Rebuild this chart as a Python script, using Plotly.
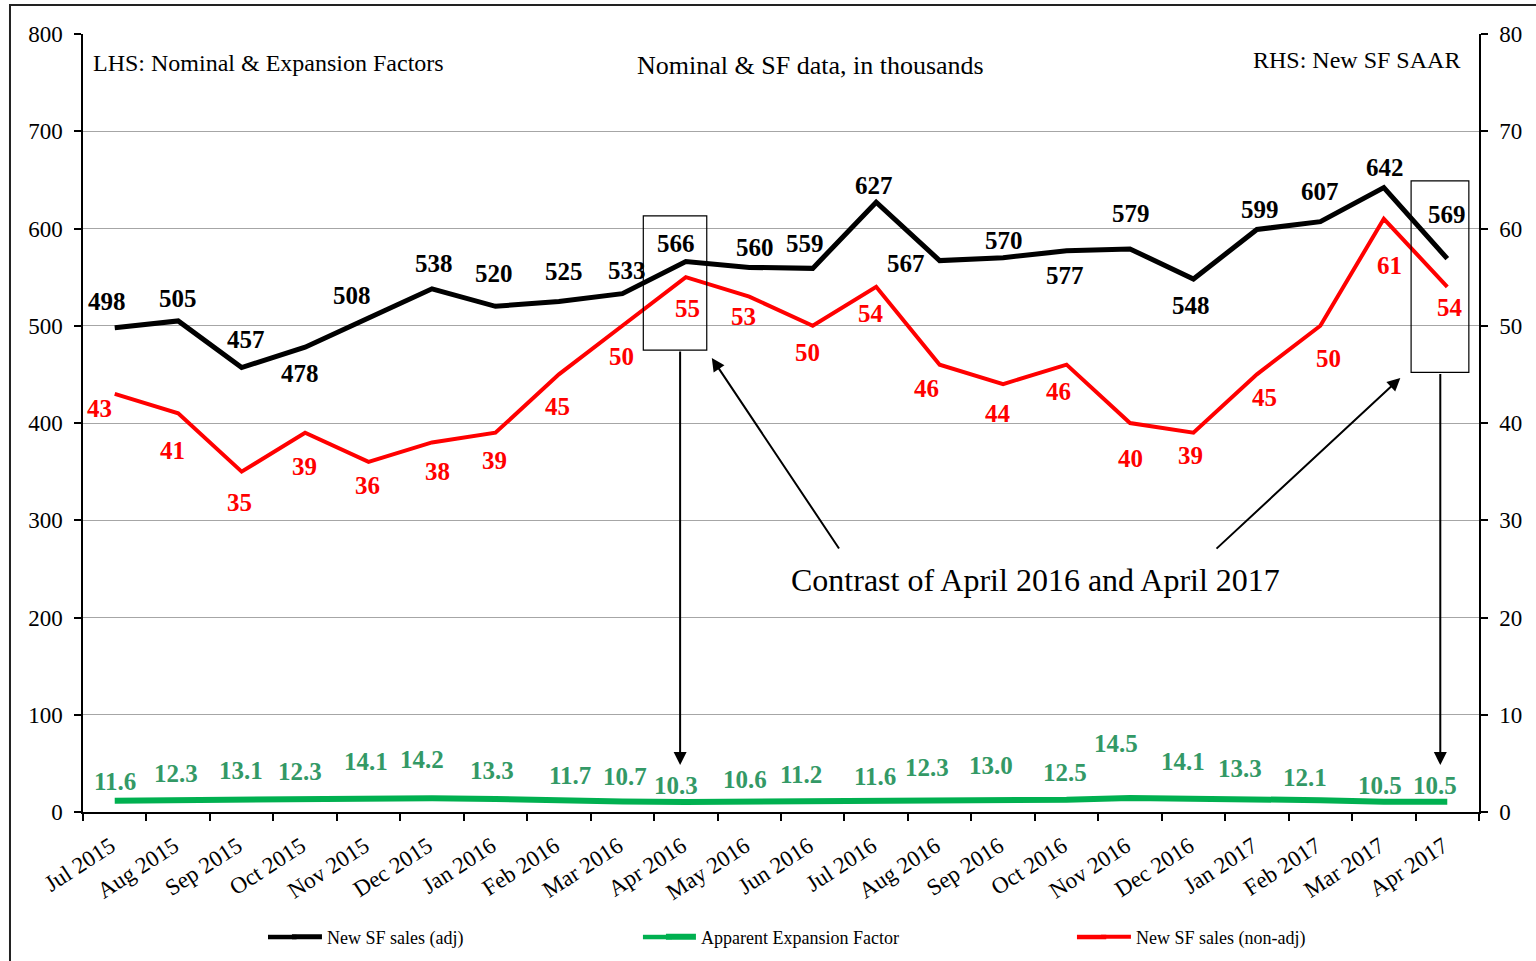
import plotly.graph_objects as go

months = ["Jul 2015", "Aug 2015", "Sep 2015", "Oct 2015", "Nov 2015", "Dec 2015",
          "Jan 2016", "Feb 2016", "Mar 2016", "Apr 2016", "May 2016", "Jun 2016",
          "Jul 2016", "Aug 2016", "Sep 2016", "Oct 2016", "Nov 2016", "Dec 2016",
          "Jan 2017", "Feb 2017", "Mar 2017", "Apr 2017"]
sf_adj = [498, 505, 457, 478, 508, 538, 520, 525, 533, 566, 560, 559,
          627, 567, 570, 577, 579, 548, 599, 607, 642, 569]
expansion = [11.6, 12.3, 13.1, 12.3, 14.1, 14.2, 13.3, 11.7, 10.7, 10.3, 10.6, 11.2,
             11.6, 12.3, 13.0, 12.5, 14.5, 14.1, 13.3, 12.1, 10.5, 10.5]
sf_nonadj = [43, 41, 35, 39, 36, 38, 39, 45, 50, 55, 53, 50,
             54, 46, 44, 46, 40, 39, 45, 50, 61, 54]

# label offsets in pixels (style only)
adj_dx = [-8, 0, 4, -5, -17, 2, -1, 5, 5, -10, 6, -8, -2, -34, 1, -2, 1, -2, 3, 0, 1, 0]
adj_dy = [26, 22, 28, -26, 22, 25, 33, 30, 23, 18, 20, 25, 17, -3, 17, -25, 35, -26, 20, 30, 20, 44]
non_dx = [-15, -6, -2, -1, -1, 5, -1, -1, -1, 2, -6, -5, -5, -13, -5, -8, 0, -3, 8, 8, 6, 3]
non_dy = [-15, -37, -31, -34, -24, -29, -28, -32, -31, -31, -20, -27, -27, -24, -29, -27, -35, -23, -23, -33, -47, -21]
exp_dx = [0, -2, -1, -5, -3, -10, -3, 11, 3, -10, -4, -12, -1, -13, -12, -2, -14, -10, -17, -15, -4, -12]
exp_dy = [19, 27, 29, 29, 37, 39, 29, 25, 25, 16, 22, 27, 24, 33, 34, 27, 54, 37, 31, 23, 16, 16]

FONT = "Liberation Serif, Times New Roman, serif"
BLACK = "#000000"
RED = "#FF0000"
GREEN_LINE = "#00B050"
GREEN_TEXT = "#339966"

fig = go.Figure()
fig.add_trace(go.Scatter(x=months, y=sf_adj, mode="lines", name="New SF sales (adj)",
                         line=dict(color=BLACK, width=5), legend="legend", showlegend=True))
fig.add_trace(go.Scatter(x=months, y=expansion, mode="lines", name="Apparent Expansion Factor",
                         line=dict(color=GREEN_LINE, width=6), legend="legend2", showlegend=True))
fig.add_trace(go.Scatter(x=months, y=sf_nonadj, mode="lines", name="New SF sales (non-adj)",
                         line=dict(color=RED, width=4), yaxis="y2", legend="legend3",
                         showlegend=True))

annotations = []
for i, m in enumerate(months):
    annotations.append(dict(x=m, y=sf_adj[i], xref="x", yref="y", text=str(sf_adj[i]),
                            showarrow=False, xshift=adj_dx[i], yshift=adj_dy[i],
                            font=dict(family=FONT, size=25, color=BLACK, weight="bold")))
    annotations.append(dict(x=m, y=sf_nonadj[i], xref="x", yref="y2", text=str(sf_nonadj[i]),
                            showarrow=False, xshift=non_dx[i], yshift=non_dy[i],
                            font=dict(family=FONT, size=25, color=RED, weight="bold")))
    annotations.append(dict(x=m, y=expansion[i], xref="x", yref="y", text=f"{expansion[i]:.1f}",
                            showarrow=False, xshift=exp_dx[i], yshift=exp_dy[i],
                            font=dict(family=FONT, size=25, color=GREEN_TEXT, weight="bold")))

annotations += [
    dict(x=0.0057, y=0.9627, xref="paper", yref="paper", xanchor="left", yanchor="middle",
         text="LHS: Nominal & Expansion Factors", showarrow=False,
         font=dict(family=FONT, size=24, color=BLACK)),
    dict(x=0.5208, y=0.960, xref="paper", yref="paper", xanchor="center", yanchor="middle",
         text="Nominal & SF data, in thousands", showarrow=False,
         font=dict(family=FONT, size=26, color=BLACK)),
    dict(x=0.9878, y=0.9666, xref="paper", yref="paper", xanchor="right", yanchor="middle",
         text="RHS: New SF SAAR", showarrow=False,
         font=dict(family=FONT, size=24, color=BLACK)),
    dict(x=0.682, y=0.298, xref="paper", yref="paper", xanchor="center", yanchor="middle",
         text="Contrast of April 2016 and April 2017", showarrow=False,
         font=dict(family=FONT, size=32, color=BLACK)),
]

arrow_style = dict(showarrow=True, text="", arrowhead=2, arrowsize=1.3, arrowwidth=2,
                   arrowcolor=BLACK, standoff=0, startstandoff=0,
                   xref="x", yref="y", axref="x", ayref="y")
annotations += [
    dict(x=8.91, y=48.3, ax=8.91, ay=475, **arrow_style),
    dict(x=20.89, y=48.3, ax=20.89, ay=452, **arrow_style),
    dict(x=9.41, y=466.8, ax=11.43, ay=269.4, **arrow_style),
    dict(x=20.26, y=446.3, ax=17.34, ay=269.4, **arrow_style),
]

LEG_Y = -0.1607
shapes = [
    dict(type="rect", xref="x", yref="y", x0=8.33, x1=9.33, y0=475, y1=613,
         line=dict(color=BLACK, width=1.2)),
    dict(type="rect", xref="x", yref="y", x0=20.43, x1=21.34, y0=452, y1=649,
         line=dict(color=BLACK, width=1.2)),
    dict(type="rect", xref="paper", yref="paper", x0=-0.0523, x1=1.05, y0=-0.22, y1=1.0373,
         line=dict(color="#222222", width=2), layer="below"),
    # longer legend keys, as in the original
    dict(type="line", xref="paper", yref="paper", x0=0.1325, x1=0.1530, y0=LEG_Y, y1=LEG_Y,
         line=dict(color=BLACK, width=4.5)),
    dict(type="line", xref="paper", yref="paper", x0=0.4011, x1=0.4220, y0=LEG_Y, y1=LEG_Y,
         line=dict(color=GREEN_LINE, width=4.5)),
    dict(type="line", xref="paper", yref="paper", x0=0.7120, x1=0.7330, y0=LEG_Y, y1=LEG_Y,
         line=dict(color=RED, width=4.5)),
]

legend_common = dict(y=LEG_Y, xanchor="left", yanchor="middle", orientation="h",
                     font=dict(family=FONT, size=18, color=BLACK), bgcolor="rgba(0,0,0,0)")

fig.update_layout(
    width=1536, height=961,
    margin=dict(l=83, r=57, t=34, b=149, autoexpand=False),
    paper_bgcolor="white", plot_bgcolor="white",
    showlegend=True,
    font=dict(family=FONT, size=22, color=BLACK),
    annotations=annotations, shapes=shapes,
    xaxis=dict(type="category", range=[-0.5, 21.5], tickson="boundaries", automargin=False,
               ticks="outside", ticklen=7, tickwidth=1.5, tickcolor=BLACK,
               showline=True, linecolor=BLACK, linewidth=1.5, showgrid=False,
               tickangle=-33, ticklabelstandoff=10, ticklabelshift=-4,
               tickfont=dict(family=FONT, size=23, color=BLACK)),
    yaxis=dict(range=[0, 800], dtick=100, showgrid=True, gridcolor="#A6A6A6", gridwidth=1.2,
               automargin=False, ticklabelstandoff=7,
               ticks="outside", ticklen=7, tickwidth=1.5, tickcolor=BLACK,
               showline=True, linecolor=BLACK, linewidth=1.5, zeroline=False,
               tickfont=dict(family=FONT, size=23, color=BLACK)),
    yaxis2=dict(range=[0, 80], dtick=10, overlaying="y", side="right", showgrid=False,
                automargin=False, ticklabelstandoff=7,
                ticks="outside", ticklen=7, tickwidth=1.5, tickcolor=BLACK,
                showline=True, linecolor=BLACK, linewidth=1.5, zeroline=False,
                tickfont=dict(family=FONT, size=23, color=BLACK)),
    legend=dict(x=0.1461, **legend_common),
    legend2=dict(x=0.4140, **legend_common),
    legend3=dict(x=0.7256, **legend_common),
)

fig.write_html("out.html", config={"displayModeBar": False},
               post_script="document.body.style.margin='0';document.body.style.overflow='hidden';")
